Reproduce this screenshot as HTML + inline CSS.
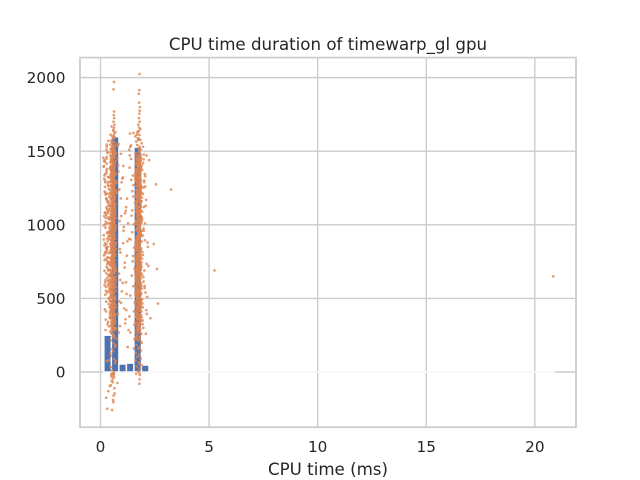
<!DOCTYPE html>
<html>
<head>
<meta charset="utf-8">
<title>CPU time duration of timewarp_gl gpu</title>
<style>
html,body{margin:0;padding:0;background:#fff;width:640px;height:480px;overflow:hidden}
svg{display:block}
text{font-family:"DejaVu Sans","Liberation Sans",sans-serif;fill:#262626}
</style>
</head>
<body>
<svg id="chart" width="640" height="480" viewBox="0 0 640 480" xmlns="http://www.w3.org/2000/svg">
<g id="grid"></g>
<g id="bars"></g>
<g id="points"></g>
<g id="frame"></g>
<g id="ticks"></g>
<text x="328" y="50" text-anchor="middle" font-size="16.67">CPU time duration of timewarp_gl gpu</text>
<text x="328" y="475" text-anchor="middle" font-size="16.67">CPU time (ms)</text>
</svg>
<script>
const xTickValues = [0, 5, 10, 15, 20];
const yTickValues = [0, 500, 1000, 1500, 2000];
const binStart = 0.155;
const binWidth = 0.346;
const histCounts = [250,1598,54,60,1527,47,0,1,0,1,1,0,1,1,1,0,1,1,1,1,1,1,1,0,1,1,1,0,1,0,1,1,0,1,1,1,0,1,1,0,1,0,1,1,0,1,1,0,1,1,1,0,1,0,1,1,0,1,1,1];

const core1X = [
.52,.61,.47,.68,.55,.63,.49,.70,.58,.45,.66,.53,.60,.48,.69,.56,.64,.50,.59,.67,
.46,.62,.54,.71,.51,.65,.57,.44,.68,.60,.49,.63,.53,.70,.47,.58,.66,.52,.61,.55,
.69,.48,.64,.56,.45,.67,.51,.60,.54,.71,.46,.62,.58,.50,.65,.53,.68,.47,.59,.63,
.55,.70,.49,.61,.52,.66,.44,.57,.64,.51,.69,.54,.47,.60,.67,.56,.48,.62,.53,.71,
.58,.46,.65,.50,.63,.55,.68,.45,.59,.52,.70,.48,.61,.57,.66,.49,.54,.64,.47,.60,
.67,.51,.56,.69,.44,.62,.53,.58,.65,.46,.71,.50,.60,.55,.68,.48,.63,.52,.57,.66,
.49,.61,.54,.70,.47,.59,.64,.51,.67,.56,.45,.62,.53,.69,.48,.60,.58,.50,.65,.55,
.71,.46,.63,.52,.57,.68,.49,.61,.54,.66,.44,.59,.64,.51,.70,.47,.56,.62,.53,.67,
.50,.60,.55,.69,.48,.65,.58,.45,.63,.52,.71,.49,.57,.61,.54,.66,.46,.68,.59,.51,
.64,.47,.56,.70,.53,.62,.50,.67,.44,.60,.55,.65,.48,.58,.69,.52,.63,.46,.57,.61,
.54,.71,.49,.66,.51,.59,.64,.47,.68,.56,.45,.62,.53,.60,.67,.50,.58,.70,.48,.55,
.65,.52,.61,.46,.69,.57,.63,.49,.54,.66,.44,.60,.51,.71,.56,.64,.47,.59,.53,.68,
.50,.62,.55,.67,.48,.58,.65,.45,.61,.52,.70,.57,.46,.63,.54,.69,.49,.60,.56,.66,
.51,.64,.47,.59,.71,.53,.62,.44,.68,.55,.50,.65,.58,.48,.61,.67,.52,.57,.46,.63
];
const core1Y = [
12,-18,35,60,-8,88,110,74,142,128,171,155,196,214,183,240,229,262,251,287,
275,305,318,296,338,327,352,366,344,381,373,396,410,389,424,417,439,452,431,466,
459,480,494,473,508,501,522,536,515,550,543,564,578,557,592,585,606,620,599,634,
627,648,662,641,676,669,690,704,683,718,711,732,746,725,760,753,774,788,767,802,
795,816,830,809,844,837,858,872,851,886,879,900,914,893,928,921,942,956,935,970,
963,984,998,977,1012,1005,1026,1040,1019,1054,1047,1068,1082,1061,1096,1089,1110,1124,1103,1138,
1131,1152,1166,1145,1180,1173,1194,1208,1187,1222,1215,1236,1250,1229,1264,1257,1278,1292,1271,1306,
1299,1320,1334,1313,1348,1341,1362,1376,1355,1390,1383,1404,1418,1397,1432,1425,1446,1460,1439,1474,
1467,1488,1502,1481,1516,1509,1530,1544,1523,1558,1551,1572,1586,1565,1600,1593,1612,1630,1645,1668,
702,455,918,623,1154,388,1041,786,1292,541,867,1210,672,430,995,1358,748,597,1123,1076,
308,834,1447,966,505,1262,711,1185,640,901,1390,476,1029,815,1101,368,1321,578,949,1234,
245,767,1058,1425,692,884,1167,533,1009,1283,409,738,977,1346,610,1136,852,1498,325,1072,
655,1205,930,493,1380,784,1111,566,1014,1251,440,823,1472,721,1160,295,958,1305,618,1088,
845,1411,524,1195,689,1033,1268,377,906,1532,755,1127,462,1372,800,991,1219,587,1335,1048
];

const core1DenseX = [
.55,.49,.62,.52,.66,.47,.58,.64,.51,.60,.48,.56,.65,.53,.61,.50,.63,.57,.47,.59,
.64,.52,.48,.60,.55,.66,.50,.58,.62,.49,.54,.65,.47,.61,.56,.52,.63,.59,.51,.57,
.49,.62,.55,.47,.64,.53,.60,.66,.50,.56,.58,.48,.63,.52,.61,.54,.65,.49,.57,.60,
.66,.51,.58,.48,.62,.55,.47,.64,.53,.59,.50,.61,.56,.65,.49,.52,.63,.57,.48,.60,
.54,.47,.65,.51,.59,.62,.49,.56,.64,.53,.58,.66,.50,.61,.48,.55,.63,.52,.60,.57,
.62,.50,.56,.66,.48,.60,.53,.65,.47,.58,.55,.63,.51,.61,.49,.64,.54,.59,.52,.57,
.48,.64,.58,.51,.62,.47,.56,.65,.53,.60,.50,.66,.55,.61,.49,.57,.63,.52,.59,.54,
.65,.53,.49,.61,.56,.47,.63,.58,.51,.66,.55,.48,.60,.64,.52,.57,.50,.62,.54,.59,
.51,.60,.66,.48,.55,.63,.50,.58,.65,.47,.61,.53,.56,.49,.64,.59,.52,.62,.57,.54,
.58,.47,.61,.53,.65,.50,.56,.63,.49,.60,.66,.52,.55,.48,.62,.57,.51,.64,.59,.54,
.49,.63,.55,.60,.47,.65,.52,.58,.50,.61,.56,.66,.48,.64,.53,.59,.62,.51,.57,.54,
.60,.52,.66,.49,.57,.63,.47,.55,.61,.50,.65,.58,.48,.53,.62,.56,.64,.51,.59,.54
];
const core1DenseY = [
262,271,283,294,301,312,325,333,347,352,364,371,384,395,402,413,421,436,443,454,
467,473,486,492,507,514,523,534,541,556,563,572,581,594,603,611,624,632,645,651,
663,674,682,693,705,713,722,731,746,752,761,776,783,792,804,815,823,835,841,853,
864,871,885,894,902,913,926,934,943,956,962,974,981,995,1003,1012,1024,1033,1046,1052,
1064,1073,1085,1091,1104,1112,1125,1136,1143,1154,1165,1172,1183,1194,1206,1213,1224,1235,1242,1253,
1266,1274,1283,1295,1302,1315,1323,1336,1344,1352,1364,1375,1383,1392,1404,1413,1425,1434,1443,1456,
1463,1472,1486,1495,1503,1514,1522,1536,282,356,438,517,594,676,758,839,917,996,1078,1156,
1238,1317,1396,1478,301,388,462,543,627,704,786,865,948,1026,1107,1188,1266,1345,1427,1506,
328,409,491,568,649,733,811,892,973,1054,1133,1214,1293,1371,1452,343,422,503,586,668,
747,828,906,987,1067,1146,1227,1306,1388,1467,366,447,528,607,689,768,849,931,1010,1092,
1171,1252,1331,1410,1491,378,459,538,619,701,782,860,942,1021,1103,1182,1261,1342,1421,1500,
596,717,877,1038,1199,1360,477,638,798,959,1119,1280,1441,557,722,883,1043,1204,1365,1526
];

const core2X = [
1.71,1.82,1.64,1.88,1.75,1.67,1.85,1.61,1.78,1.70,1.86,1.63,1.80,1.73,1.89,1.66,1.76,1.84,1.69,1.62,
1.79,1.87,1.72,1.65,1.83,1.77,1.60,1.81,1.68,1.86,1.74,1.63,1.88,1.71,1.79,1.66,1.84,1.75,1.61,1.82,
1.69,1.87,1.64,1.76,1.80,1.72,1.89,1.67,1.83,1.62,1.78,1.70,1.85,1.65,1.74,1.81,1.60,1.88,1.73,1.68,
1.86,1.77,1.63,1.82,1.71,1.66,1.84,1.79,1.61,1.75,1.87,1.69,1.80,1.64,1.89,1.72,1.76,1.62,1.83,1.67,
1.78,1.85,1.70,1.65,1.81,1.74,1.88,1.60,1.73,1.82,1.68,1.86,1.63,1.77,1.71,1.84,1.66,1.79,1.87,1.61,
1.75,1.69,1.83,1.64,1.80,1.72,1.89,1.67,1.76,1.85,1.62,1.78,1.70,1.86,1.65,1.81,1.74,1.60,1.88,1.73,
1.68,1.82,1.77,1.63,1.87,1.71,1.66,1.84,1.79,1.61,1.75,1.86,1.69,1.80,1.64,1.89,1.72,1.83,1.67,1.76,
1.62,1.85,1.78,1.70,1.65,1.88,1.81,1.74,1.60,1.82,1.73,1.68,1.87,1.77,1.63,1.84,1.71,1.79,1.66,1.86,
1.75,1.61,1.83,1.69,1.80,1.64,1.89,1.72,1.76,1.85,1.67,1.62,1.78,1.88,1.70,1.81,1.65,1.74,1.86,1.60,
1.82,1.73,1.68,1.87,1.77,1.63,1.84,1.71,1.79,1.66,1.75,1.89,1.61,1.83,1.69,1.80,1.64,1.85,1.72,1.76,
1.67,1.88,1.62,1.78,1.70,1.86,1.65,1.81,1.74,1.60,1.82,1.73,1.87,1.68,1.77,1.63,1.84,1.71,1.79,1.66,
1.89,1.75,1.61,1.83,1.69,1.85,1.80,1.64,1.72,1.88,1.76,1.67,1.62,1.86,1.78,1.70,1.82,1.65,1.81,1.74,
1.60,1.87,1.73,1.68,1.84,1.77,1.63,1.79,1.71,1.89,1.66,1.75,1.85,1.61,1.83,1.69,1.80,1.64,1.88,1.72,
1.76,1.67,1.86,1.62,1.78,1.82,1.70,1.65,1.87,1.81,1.74,1.60,1.84,1.73,1.68,1.89,1.77,1.63,1.79,1.71
];
const core2Y = [
8,26,-12,48,66,38,92,80,118,104,146,131,170,158,199,184,226,212,247,238,
272,260,296,285,318,307,342,330,364,353,388,376,410,399,432,421,456,444,478,467,
500,489,522,511,546,534,568,557,590,579,614,602,636,625,658,647,682,670,704,693,
726,715,750,738,772,761,794,783,818,806,840,829,862,851,886,874,908,897,930,919,
954,942,976,965,998,987,1022,1010,1044,1033,1066,1055,1090,1078,1112,1101,1134,1123,1158,1146,
1180,1169,1202,1191,1226,1214,1248,1237,1270,1259,1294,1282,1316,1305,1338,1327,1362,1350,1384,1373,
1406,1395,1430,1418,1452,1441,1474,1463,1498,1486,1520,1509,1542,1531,1566,1554,1588,1577,1612,1636,
653,412,987,728,1203,536,1088,842,1331,465,915,1150,604,376,1025,1268,770,558,1111,1390,
295,868,1236,690,1446,512,960,1175,747,1062,435,1310,812,585,1130,1421,663,903,1256,342,
1045,721,1372,490,1195,837,1008,626,1288,398,941,1160,775,1340,547,1074,872,1226,317,1462,
678,1015,455,1302,801,1120,571,1408,930,706,1245,363,1056,889,1180,612,1356,470,980,1095,
745,1274,528,1035,857,1438,641,1142,268,922,1206,783,1322,442,1068,590,1390,823,1170,701,
228,955,1285,506,1100,762,1350,633,1002,1218,415,880,1155,544,1425,730,1040,333,1265,918,
670,1125,478,1378,850,1000,597,1240,386,1082,792,1315,520,965,1190,715,1448,620,1028,896
];

const core2DenseX = [
1.72,1.66,1.81,1.69,1.85,1.64,1.76,1.83,1.68,1.79,1.65,1.74,1.84,1.70,1.80,1.67,1.82,1.75,1.64,1.78,
1.83,1.69,1.65,1.79,1.73,1.86,1.67,1.76,1.81,1.66,1.71,1.84,1.64,1.80,1.74,1.69,1.82,1.77,1.68,1.75,
1.66,1.81,1.72,1.64,1.83,1.70,1.79,1.85,1.67,1.74,1.76,1.65,1.82,1.69,1.80,1.71,1.84,1.66,1.75,1.78,
1.86,1.68,1.76,1.65,1.81,1.73,1.64,1.83,1.70,1.77,1.67,1.80,1.74,1.84,1.66,1.69,1.82,1.75,1.65,1.79,
1.71,1.64,1.84,1.68,1.77,1.81,1.66,1.74,1.83,1.70,1.76,1.85,1.67,1.80,1.65,1.72,1.82,1.69,1.79,1.75,
1.81,1.67,1.74,1.86,1.65,1.79,1.70,1.84,1.64,1.76,1.73,1.82,1.68,1.80,1.66,1.83,1.71,1.77,1.69,1.75,
1.65,1.83,1.76,1.68,1.81,1.64,1.74,1.84,1.70,1.79,1.67,1.85,1.72,1.80,1.66,1.75,1.82,1.69,1.77,1.71,
1.84,1.70,1.66,1.80,1.74,1.64,1.82,1.76,1.68,1.86,1.73,1.65,1.79,1.83,1.69,1.75,1.67,1.81,1.71,1.77,
1.68,1.79,1.85,1.65,1.72,1.82,1.67,1.76,1.84,1.64,1.80,1.70,1.74,1.66,1.83,1.77,1.69,1.81,1.75,1.71,
1.76,1.64,1.80,1.70,1.84,1.67,1.74,1.82,1.66,1.79,1.86,1.69,1.73,1.65,1.81,1.75,1.68,1.83,1.77,1.71,
1.66,1.82,1.72,1.79,1.64,1.84,1.69,1.76,1.67,1.80,1.74,1.85,1.65,1.83,1.70,1.77,1.81,1.68,1.75,1.71,
1.79,1.69,1.86,1.66,1.75,1.82,1.64,1.73,1.80,1.67,1.84,1.76,1.65,1.70,1.81,1.74,1.83,1.68,1.77,1.71
];
const core2DenseY = [
214,226,238,247,259,268,281,290,302,313,321,335,343,354,362,376,384,393,405,414,
423,437,445,453,466,474,483,495,502,516,524,533,541,554,562,573,582,591,603,612,
624,633,641,655,663,672,684,691,705,713,722,734,743,751,766,774,782,793,804,812,
825,833,842,856,864,873,881,895,903,912,924,932,945,953,961,976,984,993,1002,1014,
1023,1031,1044,1052,1065,1073,1082,1094,1101,1115,1123,1132,1144,1153,1161,1174,1183,1192,1204,1212,
1225,1233,1241,1256,1264,1272,1285,1293,1302,1314,1323,1331,1345,1352,1363,1371,1384,1392,1405,1413,
1424,1432,1443,1451,1238,1316,1395,1476,287,366,447,526,607,686,768,847,926,1006,1087,1166,
1245,1327,1406,1461,305,382,463,544,623,704,785,864,943,1024,1103,1185,1264,1343,1422,322,
402,483,562,641,722,803,882,963,1042,1121,1202,1283,1362,1441,341,420,501,582,661,
740,821,900,981,1060,1141,1220,1301,1380,1455,358,439,518,599,678,759,838,919,998,1079,
1158,1239,1318,1399,1472,375,456,537,616,697,776,857,936,1017,1096,1177,1256,1337,1416,1490,
597,717,878,1037,1198,1359,476,638,799,958,1118,1279,1439,558,719,881,1041,1203,1364,1510
];

const haloLeftX = [
.22,.36,.28,.41,.18,.33,.25,.39,.30,.20,
.43,.27,.35,.16,.38,.24,.31,.42,.21,.34,
.29,.40,.19,.37,.26,.44,.32,.23,.35,.15,
.39,.28,.41,.22,.33,.17,.37,.30,.43,.25,
.20,.36,.27,.42,.31,.18,.38,.24,.34,.40,
.29,.14,.35,.21,.41,.26,.32,.44,.19,.37,
.23,.39,.28,.33,.16,.42,.30,.25,.36,.20,
.43,.27,.38,.22,.34,.31,.17,.40,.24,.35,
.29,.41,.19,.37,.26,.32,.44,.21,.39,.28,
.33,.23,.42,.30,.15,.36,.25,.38,.20,.34,
.27,.40,.22,.43,.31,.18,.35,.26,.41,.29,
.37,.13,.33,.24,.39,.21,.44,.28,.32,.19,
.36,.25,.42,.30,.16,.38,.23,.34,.40,.27,
.31,.20,.43,.26,.35,.22,.37,.29,.41,.17
];
const haloLeftY = [
610,742,836,905,688,1012,770,655,948,1082,
725,868,1130,792,582,1048,640,985,815,702,
1175,925,760,1098,672,1234,850,1005,620,930,
1146,715,565,1288,888,1060,745,540,975,1210,
800,660,1118,505,905,1335,775,1022,595,1192,
842,1395,690,1258,958,478,1078,730,1440,1160,
625,1322,812,1488,995,440,1105,578,1212,875,
398,1368,1040,525,1274,735,1432,948,356,1090,
1532,660,1225,462,1180,325,1010,1300,605,1462,
780,285,1128,1380,900,1570,552,1245,426,1050,
1512,695,1345,368,1155,860,1290,845,1038,1415,
500,1455,942,1205,310,1085,650,1352,1495,590,
1265,412,1110,825,1398,548,980,1325,808,1172,
755,1428,485,1068,340,1220,920,1545,628,1312
];

const haloRightX = [
.82,.97,1.18,.88,1.06,.78,1.24,.92,1.12,.85,
1.02,.76,1.20,.95,1.09,.80,1.15,.90,1.27,.84,
1.00,1.22,.77,1.13,.94,1.31,.87,1.05,.79,1.17,
1.36,1.42,1.50,1.46,1.53,1.39,1.55,1.48,1.34,1.57,
1.44,1.51,1.37,1.58,1.47,1.41,1.54,1.33,1.49,1.56,
1.43,1.52,1.38,1.59,1.45,1.35,1.50,1.57,1.40,1.54,
1.92,2.01,1.95,2.08,1.90,1.98,2.04,1.93,2.12,1.96,
1.91,2.03,1.99,2.15,1.94,2.06,1.90,2.00,1.97,2.10,
1.92,2.05,1.95,2.18,1.91,2.02,1.98,2.07,1.93,2.13,
1.96,1.90,2.04,1.94,2.00,2.09,1.92,1.99,2.16,1.95,
2.20,1.97,2.03,1.91,2.11,1.94,2.06,1.90,2.01,1.98,
.83,1.03,.93,1.16,.79,1.07,.89,1.21,.98,.86,
1.29,.81,1.11,.91,1.19,.96,1.25,.75,1.04,1.14
];
const haloRightY = [
1362,1288,1120,1025,960,1450,888,812,742,668,
605,1215,530,470,432,395,358,312,1010,268,
1315,1178,225,1078,1482,905,1240,1400,1535,610,
1620,1305,1192,1098,1002,900,845,752,1388,702,
655,583,520,472,1228,1448,412,378,1335,320,
1062,1270,268,1150,950,1472,788,222,1540,160,
1372,1290,1210,1130,1050,975,895,815,735,1420,
660,585,1478,510,440,1330,372,1255,300,1170,
1090,1010,928,850,770,690,615,540,465,395,
1530,1405,1345,325,1120,260,1035,960,880,795,
720,645,570,495,420,350,1260,1185,1300,1445,
1548,1322,1180,1095,1235,985,835,790,548,480,
285,1405,710,625,420,1060,170,1285,875,330
];

const outlierX = [
3.25,2.55,2.45,2.60,5.25,20.85,2.65,2.30,2.12,2.24,
.62,.60,1.80,1.79,1.76,1.78,1.81,1.80,1.79,1.77,
1.80,1.74,1.78,1.72,1.83,1.79,1.70,1.76,1.60,1.74,
.62,.61,.63,.60,.64,.62,.59,.63,.61,.60,
.56,.58,.28,.72,.48,.31,.53,.60,.65,.58,
.43,.56,.62,.55,.60,.52,.57,.64,.49,.62,
.78,.26,.36,.29,.39,.59,.50,1.80,1.81,1.78,
1.82,1.80,1.79,1.37,1.52,1.32
];
const outlierY = [
1240,1275,870,700,690,650,465,365,1470,1440,
1970,1920,2025,1915,1890,1830,1800,1775,1755,1725,
1700,1680,1660,1635,1650,1610,1625,1585,1600,1575,
1770,1745,1725,1700,1680,1660,1640,1620,1605,1590,
1560,1545,1450,1490,-90,-250,-258,-160,-145,-190,
-95,-70,-35,-25,-15,-60,-45,-110,-30,-5,
-75,-175,-130,75,80,-205,-15,-50,-20,-5,
25,55,-80,1530,1625,1510
];

const xDomain = [-0.945, 21.895];
const yDomain = [-375, 2136];
const plotLeft = 80, plotRight = 576, plotTop = 57.6, plotBottom = 427.2;
const NS = 'http://www.w3.org/2000/svg';

function xScale(v) { return plotLeft + (v - xDomain[0]) / (xDomain[1] - xDomain[0]) * (plotRight - plotLeft); }
function yScale(v) { return plotBottom - (v - yDomain[0]) / (yDomain[1] - yDomain[0]) * (plotBottom - plotTop); }
function make(tag, attrs, parent) {
  const el = document.createElementNS(NS, tag);
  for (const k in attrs) el.setAttribute(k, attrs[k]);
  parent.appendChild(el);
  return el;
}

const gridG = document.getElementById('grid');
const barsG = document.getElementById('bars');
const pointsG = document.getElementById('points');
const frameG = document.getElementById('frame');
const ticksG = document.getElementById('ticks');

xTickValues.forEach(function (t) {
  const line = make('line', {x1: xScale(t), x2: xScale(t), y1: plotTop, y2: plotBottom, stroke: '#cccccc', 'stroke-width': 1.39}, gridG);
  
  
  const label = make('text', {x: xScale(t), y: 452, 'text-anchor': 'middle', 'font-size': 15.28}, ticksG);
  label.textContent = String(t);
  
  
});
yTickValues.forEach(function (t) {
  const line = make('line', {x1: plotLeft, x2: plotRight, y1: yScale(t), y2: yScale(t), stroke: '#cccccc', 'stroke-width': 1.39}, gridG);
  
  
  const label = make('text', {x: 65.5, y: yScale(t) + 5.6, 'text-anchor': 'end', 'font-size': 15.28}, ticksG);
  label.textContent = String(t);
  
  
});

histCounts.forEach(function (c, i) {
  const x0 = xScale(binStart + i * binWidth);
  const x1 = xScale(binStart + (i + 1) * binWidth);
  const top = yScale(Math.max(c, 0));
  const rect = make('rect', {x: x0, y: top, width: x1 - x0, height: Math.max(yScale(0) - top, 0.02), fill: '#4c72b0', stroke: '#ffffff', 'stroke-width': 1.39}, barsG);
  
  
});

[[core1X, core1Y], [core1DenseX, core1DenseY], [core2X, core2Y], [core2DenseX, core2DenseY], [haloLeftX, haloLeftY], [haloRightX, haloRightY], [outlierX, outlierY]].forEach(function (group) {
  const n = Math.min(group[0].length, group[1].length);
  for (let i = 0; i < n; i++) {
    const dot = make('circle', {cx: xScale(group[0][i]), cy: yScale(group[1][i]), r: 1.35, fill: '#dd8452', 'fill-opacity': 0.8}, pointsG);
    
    
  }
});

const frame = make('rect', {x: plotLeft, y: plotTop, width: plotRight - plotLeft, height: plotBottom - plotTop, fill: 'none', stroke: '#cccccc', 'stroke-width': 1.74}, frameG);


</script>
</body>
</html>
